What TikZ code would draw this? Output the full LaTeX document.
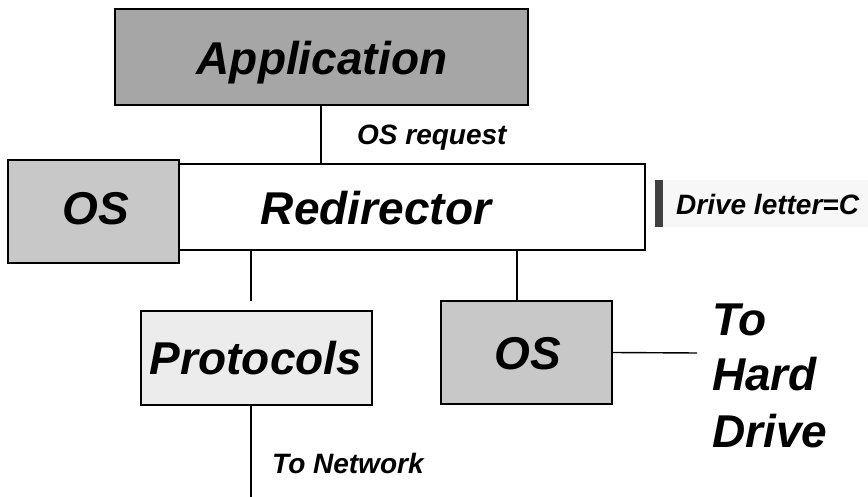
\documentclass[tikz,border=0pt]{standalone}
\usepackage{fontspec}
\setmainfont{Liberation Sans}
\definecolor{appgray}{HTML}{A6A6A6}
\definecolor{osgray}{HTML}{C8C8C8}
\definecolor{protogray}{HTML}{ECECEC}
\definecolor{tagbar}{HTML}{404040}
\definecolor{tagback}{HTML}{F7F7F7}
\newcommand{\bigtxt}{\fontsize{46}{50}\selectfont\bfseries\itshape}
\newcommand{\smalltxt}{\fontsize{28}{31}\selectfont\bfseries\itshape}
\tikzset{
  block/.style={draw=black, line width=1.3pt, inner sep=0pt},
  wire/.style={draw=black, line width=1.4pt},
  lbl/.style={inner sep=0pt, anchor=base west},
}
\begin{document}
\begin{tikzpicture}[x=1pt, y=-1pt]
\useasboundingbox (0,0) rectangle (868,497);
\fill[white] (0,0) rectangle (868,497);

% boxes
\node[block, fill=appgray, minimum width=413pt, minimum height=96pt] (app) at (321.5,57) {};
\node[block, fill=white, minimum width=466pt, minimum height=86pt] (redir) at (412,207) {};
\node[block, fill=osgray, minimum width=171pt, minimum height=103pt] (oshost) at (93.5,211.5) {};
\node[block, fill=protogray, minimum width=231pt, minimum height=94pt] (proto) at (256.5,358) {};
\node[block, fill=osgray, minimum width=171pt, minimum height=103pt] (oslocal) at (526.5,352.5) {};

% drive letter tag
\fill[tagback] (663,180) rectangle (868,227);
\fill[tagbar] (655,180) rectangle (663,227);
\node[lbl] (drive) at (676,215) {\smalltxt Drive letter=C};

% box labels
\node[inner sep=0pt, anchor=base] (apptxt) at (322,75) {\bigtxt Application};
\node[inner sep=0pt, anchor=base] (redirtxt) at (376,225) {\bigtxt Redirector};
\node[inner sep=0pt, anchor=base] (oshosttxt) at (96,225) {\bigtxt OS};
\node[inner sep=0pt, anchor=base] (prototxt) at (256,374) {\bigtxt Protocols};
\node[inner sep=0pt, anchor=base] (oslocaltxt) at (528,369) {\bigtxt OS};

% free ends of connectors
\coordinate (pgap) at (251,301);
\coordinate (hd) at (697,353);
\coordinate (net) at (251,497);

% connectors
\draw[wire] (app.south -| 321,0) -- (redir.north -| 321,0);
\draw[wire] (redir.south -| pgap) -- (pgap);
\draw[wire] (redir.south -| 517,0) -- (oslocal.north -| 517,0);
\draw[wire] (oslocal.east) -- (hd);
\draw[wire] (proto.south -| net) -- (net);

% connector labels
\node[lbl] (req) at (357,145) {\smalltxt OS request};
\node[lbl] (nettxt) at (272,473) {\smalltxt To Network};
\node[lbl] (hd1) at (712,335) {\bigtxt To};
\node[lbl] (hd2) at (712,390) {\bigtxt Hard};
\node[lbl] (hd3) at (712,447) {\bigtxt Drive};
\end{tikzpicture}
\end{document}
